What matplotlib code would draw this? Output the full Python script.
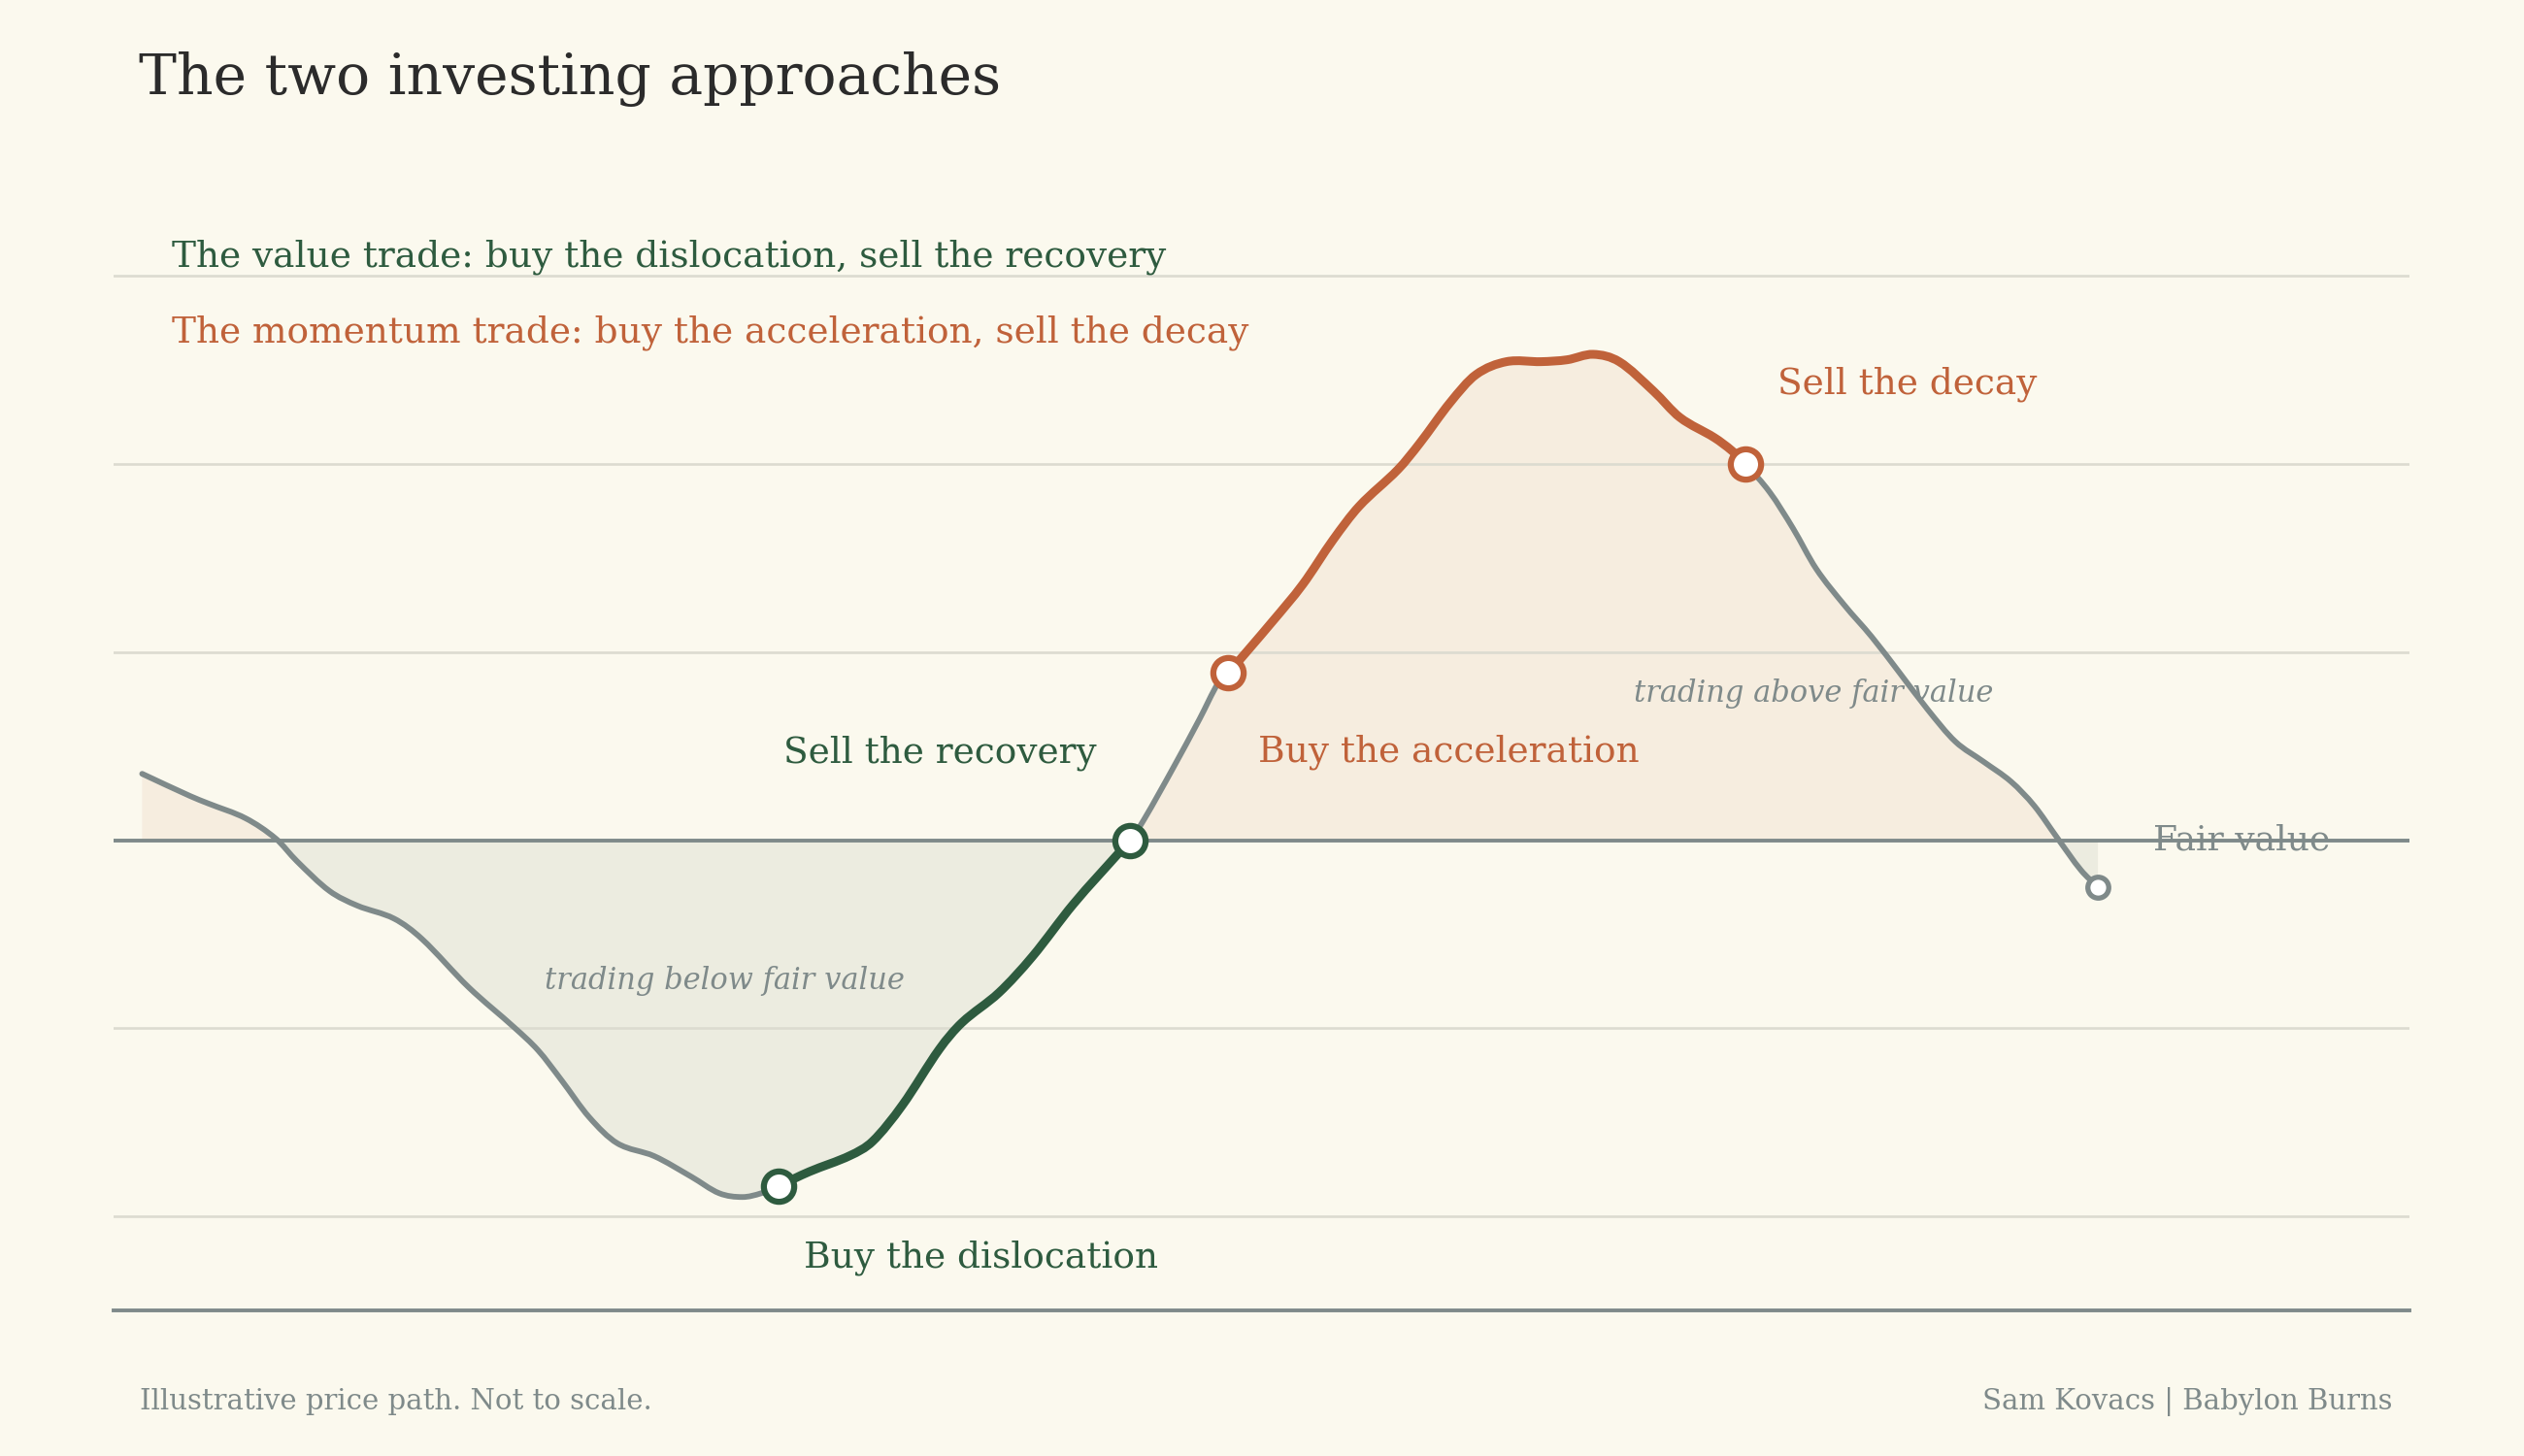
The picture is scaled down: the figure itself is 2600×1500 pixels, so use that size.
import matplotlib
matplotlib.use("Agg")
import matplotlib.pyplot as plt
from matplotlib.path import Path
from matplotlib.patches import PathPatch, Rectangle
import numpy as np

# ---- data ----
t = [0.0, 2.45, 3.39, 5.30, 6.84, 7.91, 9.57, 10.99, 12.89, 14.31, 16.69, 19.06, 20.25,
     21.44, 22.86, 24.29, 26.19, 28.08, 29.51, 30.70, 31.65, 32.56, 34.12, 36.21, 37.35,
     38.87, 40.77, 41.91, 43.81, 45.52, 47.61, 50.08, 50.52, 51.22, 52.73, 54.06, 55.02,
     55.54, 57.79, 59.34, 60.89, 62.22, 64.22, 65.32, 66.88, 68.20, 69.76, 71.53, 72.86,
     74.19, 75.52, 77.29, 78.62, 80.39, 81.28, 81.99, 83.22, 84.41, 85.59, 87.02, 88.44,
     89.87, 91.29, 92.71, 94.14, 95.56, 96.75, 97.93, 99.13, 100.0]
price = [0.353, 0.235, 0.195, 0.116, 0.008, -0.111, -0.269, -0.347, -0.417, -0.525, -0.781,
         -0.998, -1.117, -1.275, -1.472, -1.610, -1.679, -1.788, -1.876, -1.896, -1.876,
         -1.836, -1.761, -1.675, -1.600, -1.408, -1.109, -0.970, -0.810, -0.618, -0.340,
         -0.051, 0.0, 0.109, 0.387, 0.643, 0.836, 0.890, 1.162, 1.359, 1.596, 1.774, 1.971,
         2.109, 2.326, 2.474, 2.543, 2.543, 2.553, 2.582, 2.543, 2.385, 2.247, 2.139, 2.070,
         1.998, 1.849, 1.657, 1.443, 1.251, 1.080, 0.888, 0.695, 0.524, 0.418, 0.311, 0.182,
         0.011, -0.159, -0.249]

value_buy_t, value_sell_t = 32.56, 50.52
mom_buy_t, mom_sell_t = 55.54, 81.99
grid_levels = [-2, -1, 1, 2, 3]
fair_value = 0.0

title = "The two investing approaches"
value_label = "The value trade: buy the dislocation, sell the recovery"
mom_label = "The momentum trade: buy the acceleration, sell the decay"
footer_left = "Illustrative price path. Not to scale."
footer_right = "Sam Kovacs | Babylon Burns"

# ---- style ----
BG = "#FBF9EE"
GREEN = "#2E5B3F"
ORANGE = "#C0623A"
GRAY = "#7F8A8A"
GRID = "#DCDBD0"
FILL_UP = "#F6EDDF"
FILL_DN = "#ECECE0"
TITLE_C = "#2B2B2B"

plt.rcParams['font.family'] = ['DejaVu Serif']

t = np.array(t)
price = np.array(price)

# tangents for a smooth (cubic Bezier) rendering through the read points
slope = np.empty_like(price)
slope[1:-1] = (price[2:] - price[:-2]) / (t[2:] - t[:-2])
slope[0] = (price[1] - price[0]) / (t[1] - t[0])
slope[-1] = (price[-1] - price[-2]) / (t[-1] - t[-2])


def bezier_verts(i0, i1):
    verts = [(t[i0], price[i0])]
    codes = [Path.MOVETO]
    for i in range(i0, i1):
        h = t[i + 1] - t[i]
        verts.append((t[i] + h / 3, price[i] + slope[i] * h / 3))
        verts.append((t[i + 1] - h / 3, price[i + 1] - slope[i + 1] * h / 3))
        verts.append((t[i + 1], price[i + 1]))
        codes += [Path.CURVE4] * 3
    return verts, codes


fig = plt.figure(figsize=(26, 15), dpi=100, facecolor=BG)
ax = fig.add_axes([0.045, 0.0998, 0.9098, 0.7755])
ax.set_facecolor(BG)
XMIN, XMAX = -1.46, 115.95
ax.set_xlim(XMIN, XMAX)
ax.set_ylim(-2.5, 3.5)

n = len(t)
# filled area between the path and fair value
fv, fc = bezier_verts(0, n - 1)
fv = fv + [(t[-1], fair_value), (t[0], fair_value), (t[0], price[0])]
fc = fc + [Path.LINETO, Path.LINETO, Path.CLOSEPOLY]
fill_path = Path(fv, fc)
for color, rect in [(FILL_UP, Rectangle((XMIN, fair_value), XMAX - XMIN, 10)),
                    (FILL_DN, Rectangle((XMIN, fair_value - 10), XMAX - XMIN, 10))]:
    patch = PathPatch(fill_path, facecolor=color, edgecolor='none', lw=0, zorder=1)
    ax.add_patch(patch)
    rect.set_transform(ax.transData)
    patch.set_clip_path(rect)

for g in grid_levels:
    ax.axhline(g, color=GRID, lw=1.9, zorder=2)
ax.axhline(fair_value, color=GRAY, lw=2.8, zorder=2.5)

v, c = bezier_verts(0, n - 1)
ax.add_patch(PathPatch(Path(v, c), facecolor='none', edgecolor=GRAY, lw=4.2,
                       capstyle='round', joinstyle='round', zorder=3))


def idx(x):
    return int(np.argmin(np.abs(t - x)))


for a, b, col in [(value_buy_t, value_sell_t, GREEN), (mom_buy_t, mom_sell_t, ORANGE)]:
    v, c = bezier_verts(idx(a), idx(b))
    ax.add_patch(PathPatch(Path(v, c), facecolor='none', edgecolor=col, lw=6.5,
                           capstyle='round', joinstyle='round', zorder=4))

for x, col in [(value_buy_t, GREEN), (value_sell_t, GREEN), (mom_buy_t, ORANGE), (mom_sell_t, ORANGE)]:
    i = idx(x)
    ax.plot([t[i]], [price[i]], 'o', ms=22.5, mfc='white', mec=col, mew=4.5, zorder=5)
ax.plot([t[-1]], [price[-1]], 'o', ms=15.5, mfc='white', mec=GRAY, mew=3.8, zorder=5)

ax.text(33.83, -2.271, "Buy the dislocation", color=GREEN, fontsize=27, va='baseline', ha='left', zorder=6)
ax.text(32.79, 0.412, "Sell the recovery", color=GREEN, fontsize=27, va='baseline', ha='left', zorder=6)
ax.text(57.08, 0.416, "Buy the acceleration", color=ORANGE, fontsize=27, va='baseline', ha='left', zorder=6)
ax.text(83.62, 2.373, "Sell the decay", color=ORANGE, fontsize=27, va='baseline', ha='left', zorder=6)
ax.text(20.56, -0.791, "trading below fair value", color=GRAY, fontsize=22, style='italic',
        va='baseline', ha='left', zorder=6)
ax.text(76.27, 0.734, "trading above fair value", color=GRAY, fontsize=22, style='italic',
        va='baseline', ha='left', zorder=6)
ax.text(102.8, -0.05, "Fair value", color=GRAY, fontsize=26, va='baseline', ha='left', zorder=6)

for s in ['top', 'right', 'left']:
    ax.spines[s].set_visible(False)
ax.spines['bottom'].set_color(GRAY)
ax.spines['bottom'].set_linewidth(2.8)
ax.set_xticks([])
ax.set_yticks([])

fig.text(0.055, 0.935, title, color=TITLE_C, fontsize=42, va='baseline', ha='left')
fig.text(0.068, 0.8167, value_label, color=GREEN, fontsize=27, va='baseline', ha='left')
fig.text(0.068, 0.7649, mom_label, color=ORANGE, fontsize=27, va='baseline', ha='left')
fig.text(0.0555, 0.0322, footer_left, color=GRAY, fontsize=21, va='baseline', ha='left')
fig.text(0.9477, 0.0322, footer_right, color=GRAY, fontsize=21, va='baseline', ha='right')

fig.savefig("out.png", dpi=100, facecolor=BG)
